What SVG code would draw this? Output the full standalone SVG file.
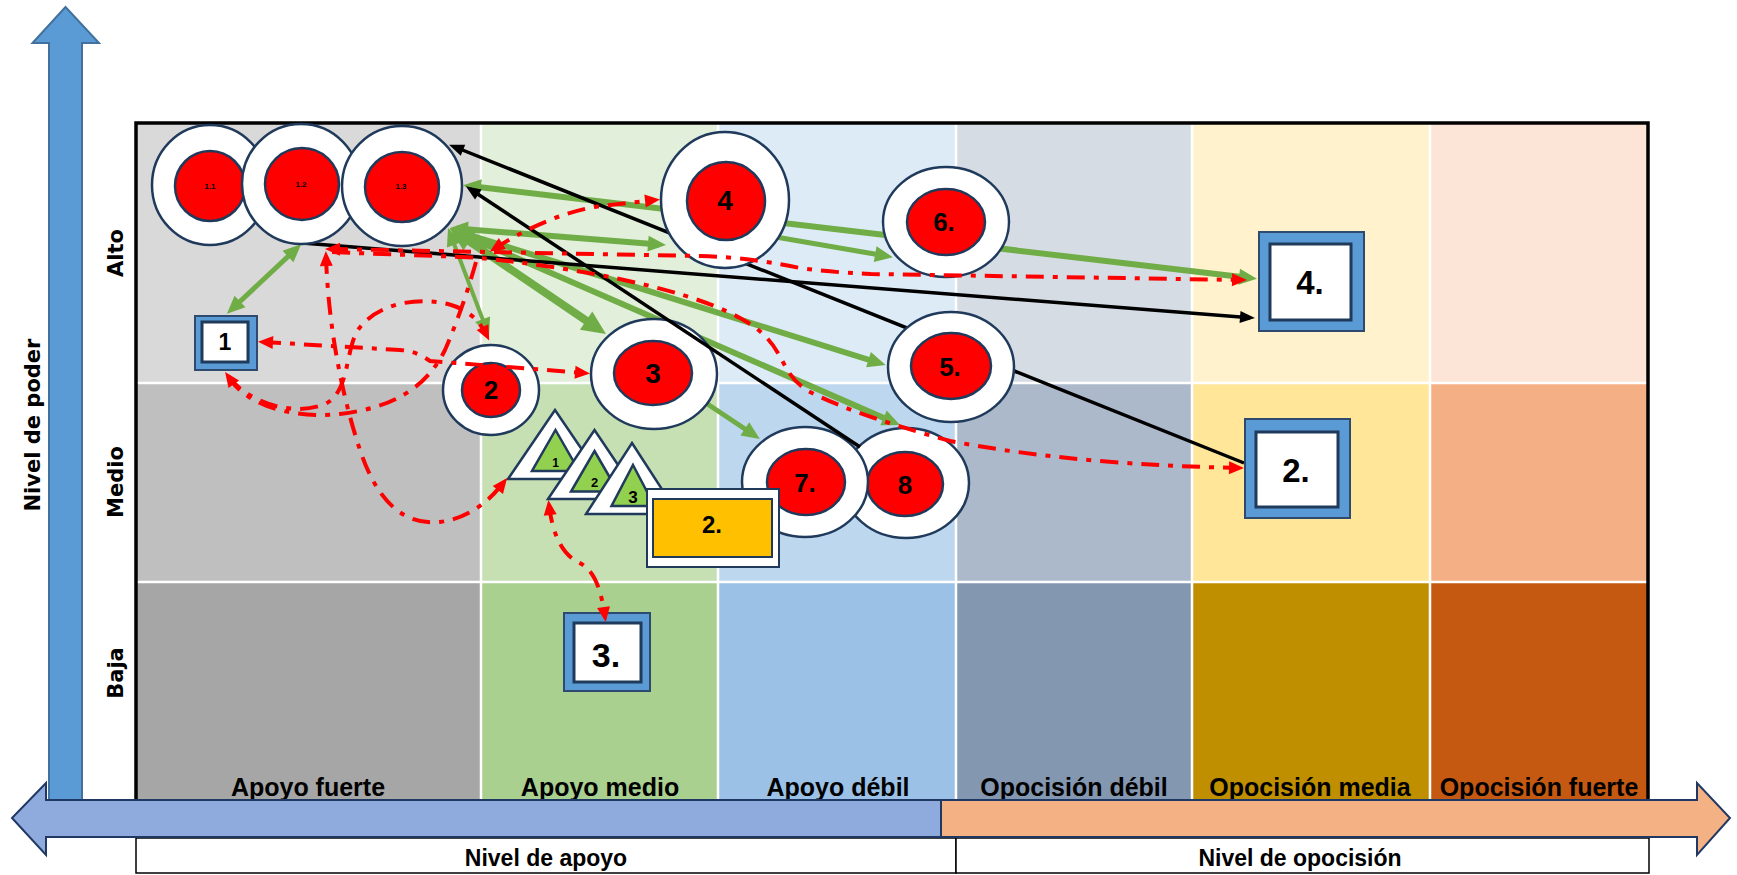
<svg xmlns="http://www.w3.org/2000/svg" width="1737" height="875" viewBox="0 0 1737 875">
<style>
.lbl{font-family:"Liberation Sans",Arial,sans-serif;font-weight:bold;fill:#000;text-anchor:middle}
.rot{font-family:"DejaVu Sans",Verdana,sans-serif;font-weight:bold;font-size:21px;fill:#000;text-anchor:middle}
.outer{fill:#fff;stroke:#203A5C;stroke-width:2.5}
.inner{fill:#FF0000;stroke:#203A5C;stroke-width:2.5}
.sqo{fill:#5B9BD5;stroke:#2E4A6E;stroke-width:2}
.sqi{fill:#fff;stroke:#1F3A5A;stroke-width:3}
.tro{fill:#fff;stroke:#203A5C;stroke-width:2.5;stroke-linejoin:miter}
.tri{fill:#92D050;stroke:#203A5C;stroke-width:2.5}
.g{fill:none;stroke:#70AD47}
.b{fill:none;stroke:#000;stroke-width:3.5}
.r{fill:none;stroke:#FF0000;stroke-width:4;stroke-dasharray:18 9 5 9}
.grid{stroke:#fff;stroke-width:2.5}
</style>
<defs>
<marker id="ag" markerUnits="userSpaceOnUse" markerWidth="18" markerHeight="16" refX="11" refY="8" orient="auto-start-reverse" overflow="visible"><path d="M0,0 L18,8 L0,16 z" fill="#70AD47"/></marker>
<marker id="agb" markerUnits="userSpaceOnUse" markerWidth="24" markerHeight="22" refX="14" refY="11" orient="auto-start-reverse" overflow="visible"><path d="M0,0 L24,11 L0,22 z" fill="#70AD47"/></marker>
<marker id="ab" markerUnits="userSpaceOnUse" markerWidth="15" markerHeight="12" refX="10" refY="6" orient="auto-start-reverse" overflow="visible"><path d="M0,0 L15,6 L0,12 z" fill="#000"/></marker>
<marker id="ar" markerUnits="userSpaceOnUse" markerWidth="15" markerHeight="13" refX="10" refY="6.5" orient="auto-start-reverse" overflow="visible"><path d="M0,0 L15,6.5 L0,13 z" fill="#FF0000"/></marker>
</defs>
<rect width="1737" height="875" fill="#fff"/>

<g id="grid">
<rect x="136" y="123" width="345" height="260" fill="#D9D9D9"/>
<rect x="136" y="383" width="345" height="199" fill="#BFBFBF"/>
<rect x="136" y="582" width="345" height="218" fill="#A6A6A6"/>
<rect x="481" y="123" width="237" height="260" fill="#E2EFDA"/>
<rect x="481" y="383" width="237" height="199" fill="#C6E0B4"/>
<rect x="481" y="582" width="237" height="218" fill="#A9D08E"/>
<rect x="718" y="123" width="238" height="260" fill="#DDEBF7"/>
<rect x="718" y="383" width="238" height="199" fill="#BDD7EE"/>
<rect x="718" y="582" width="238" height="218" fill="#9BC2E6"/>
<rect x="956" y="123" width="236" height="260" fill="#D6DCE4"/>
<rect x="956" y="383" width="236" height="199" fill="#ACB9CA"/>
<rect x="956" y="582" width="236" height="218" fill="#8497B0"/>
<rect x="1192" y="123" width="238" height="260" fill="#FFF2CC"/>
<rect x="1192" y="383" width="238" height="199" fill="#FFE699"/>
<rect x="1192" y="582" width="238" height="218" fill="#BF8F00"/>
<rect x="1430" y="123" width="218" height="260" fill="#FCE4D6"/>
<rect x="1430" y="383" width="218" height="199" fill="#F4B084"/>
<rect x="1430" y="582" width="218" height="218" fill="#C65911"/>
<line class="grid" x1="481" y1="123" x2="481" y2="800"/>
<line class="grid" x1="718" y1="123" x2="718" y2="800"/>
<line class="grid" x1="956" y1="123" x2="956" y2="800"/>
<line class="grid" x1="1192" y1="123" x2="1192" y2="800"/>
<line class="grid" x1="1430" y1="123" x2="1430" y2="800"/>
<line class="grid" x1="136" y1="383" x2="1648" y2="383"/>
<line class="grid" x1="136" y1="582" x2="1648" y2="582"/>
<path d="M136,800 V123 H1648 V800" fill="none" stroke="#000" stroke-width="3.5"/>
<text class="lbl" x="308" y="796" font-size="25">Apoyo fuerte</text>
<text class="lbl" x="600" y="796" font-size="25">Apoyo medio</text>
<text class="lbl" x="838" y="796" font-size="25">Apoyo débil</text>
<text class="lbl" x="1074" y="796" font-size="25">Opocisión débil</text>
<text class="lbl" x="1310" y="796" font-size="25">Opocisión media</text>
<text class="lbl" x="1539" y="796" font-size="25">Opocisión fuerte</text>
<text class="rot" transform="translate(123,253) rotate(-90)">Alto</text>
<text class="rot" transform="translate(123,482) rotate(-90)">Medio</text>
<text class="rot" transform="translate(123,673) rotate(-90)">Baja</text>
</g>

<g id="axes">
<path d="M49,800 V43 H32.5 L65.5,7 L99,43 H82 V800 Z" fill="#5B9BD5" stroke="#41719C" stroke-width="2"/>
<text class="rot" transform="translate(40,425) rotate(-90)">Nivel de poder</text>
<rect x="136" y="838" width="820" height="35" fill="#fff" stroke="#000" stroke-width="1.5"/>
<rect x="956" y="838" width="693" height="35" fill="#fff" stroke="#000" stroke-width="1.5"/>
<text class="lbl" x="546" y="866" font-size="23">Nivel de apoyo</text>
<text class="lbl" x="1300" y="866" font-size="23">Nivel de opocisión</text>
<path d="M941,800 H1697 V783 L1730,818 L1697,855 V837 H941 Z" fill="#F4B183" stroke="#203864" stroke-width="2"/>
<path d="M941,800 H46 V783 L12,818 L46,855 V837 H941 Z" fill="#8FAADC" stroke="#203864" stroke-width="2"/>
</g>

<g id="connectors-back">
<path class="g" stroke-width="5" d="M296,249 L232,309" marker-start="url(#ag)" marker-end="url(#ag)"/>
<path class="g" stroke-width="6" d="M470,186 L1250,278" marker-start="url(#ag)" marker-end="url(#ag)"/>
<path class="g" stroke-width="4" d="M450.5,234.5 L486.5,329.5" marker-start="url(#ag)" marker-end="url(#ag)"/>
<path class="g" stroke-width="8" d="M458,233.6 L597.7,328.4" marker-start="url(#agb)" marker-end="url(#agb)"/>
<path class="g" stroke-width="6" d="M456.7,231 L879,363" marker-start="url(#ag)" marker-end="url(#ag)"/>
<path class="g" stroke-width="6" d="M456.4,231.8 L893.6,422.2" marker-start="url(#ag)" marker-end="url(#ag)"/>
<path class="g" stroke-width="6" d="M457,228.5 L659,244.5" marker-start="url(#ag)" marker-end="url(#ag)"/>
<path class="g" stroke-width="5" d="M770,236 L886,256" marker-end="url(#ag)"/>
<path class="g" stroke-width="5" d="M700,399 L754,435" marker-end="url(#ag)"/>
<path class="b" d="M1244,463 L453.7,146.5" marker-end="url(#ab)"/>
<path class="b" d="M302,243 L1250,317.7" marker-end="url(#ab)"/>
</g>

<g id="nodes">
<g id="n1-1"><ellipse class="outer" cx="210" cy="185" rx="58" ry="60"/><ellipse class="inner" cx="210" cy="186" rx="35" ry="35"/><text class="lbl" x="210" y="189" font-size="8">1.1</text></g>
<g id="n1-2"><ellipse class="outer" cx="301" cy="184" rx="59" ry="60"/><ellipse class="inner" cx="302" cy="184" rx="37" ry="36"/><text class="lbl" x="301" y="187" font-size="8">1.2</text></g>
<g id="n1-3"><ellipse class="outer" cx="402" cy="186" rx="60" ry="60"/><ellipse class="inner" cx="402" cy="187" rx="37" ry="35"/><text class="lbl" x="401" y="189" font-size="8">1.3</text></g>
<g id="n2"><ellipse class="outer" cx="491" cy="390" rx="48" ry="45"/><ellipse class="inner" cx="491" cy="390" rx="29" ry="27"/><text class="lbl" x="491" y="399" font-size="26">2</text></g>
<g id="n3"><ellipse class="outer" cx="654" cy="374" rx="63" ry="55"/><ellipse class="inner" cx="653" cy="373" rx="39" ry="32"/><text class="lbl" x="653" y="383" font-size="28">3</text></g>
<g id="n4"><ellipse class="outer" cx="725" cy="200" rx="64" ry="68"/><ellipse class="inner" cx="726" cy="201" rx="39" ry="39"/><text class="lbl" x="725" y="210" font-size="28">4</text></g>
<g id="n5"><ellipse class="outer" cx="951" cy="367" rx="63" ry="55"/><ellipse class="inner" cx="951" cy="366" rx="40" ry="33"/><text class="lbl" x="950" y="376" font-size="26">5.</text></g>
<g id="n6"><ellipse class="outer" cx="946" cy="222" rx="63" ry="55"/><ellipse class="inner" cx="946" cy="222" rx="39" ry="33"/><text class="lbl" x="944" y="231" font-size="26">6.</text></g>
<g id="n8"><ellipse class="outer" cx="906" cy="483" rx="63" ry="55"/><ellipse class="inner" cx="905" cy="484" rx="38" ry="32"/><text class="lbl" x="905" y="494" font-size="26">8</text></g>
<g id="n7"><ellipse class="outer" cx="805" cy="482" rx="63" ry="55"/><ellipse class="inner" cx="806" cy="482" rx="39" ry="33"/><text class="lbl" x="805" y="492" font-size="26">7.</text></g>
<g id="t1"><path class="tro" d="M555,410 L602,479 L508,479 Z"/><path class="tri" d="M555.5,430 L579,471 L532,471 Z"/><text class="lbl" x="555.5" y="467" font-size="12">1</text></g>
<g id="t2"><path class="tro" d="M594.5,430 L641,499 L548,499 Z"/><path class="tri" d="M594.5,451 L618,491.5 L571,491.5 Z"/><text class="lbl" x="594.5" y="487" font-size="13">2</text></g>
<g id="t3"><path class="tro" d="M632,443 L678,514 L586,514 Z"/><path class="tri" d="M633,465 L654.5,506 L611.5,506 Z"/><text class="lbl" x="633" y="503" font-size="17">3</text></g>
<g id="box2y"><rect x="647" y="489" width="132" height="78" fill="#fff" stroke="#203A5C" stroke-width="2"/><rect x="653" y="499" width="119" height="58" fill="#FFC000" stroke="#203A5C" stroke-width="2"/><text class="lbl" x="712" y="533" font-size="24">2.</text></g>
<g id="s1"><rect class="sqo" x="195" y="316" width="62" height="54"/><rect class="sqi" x="202" y="322" width="46" height="40"/><text class="lbl" x="225" y="350" font-size="23">1</text></g>
<g id="s3"><rect class="sqo" x="564" y="613" width="86" height="78"/><rect class="sqi" x="574" y="623" width="67" height="59"/><text class="lbl" x="606" y="667" font-size="34">3.</text></g>
<g id="s4"><rect class="sqo" x="1259" y="232" width="105" height="99"/><rect class="sqi" x="1270" y="244" width="81" height="76"/><text class="lbl" x="1310" y="294" font-size="33">4.</text></g>
<g id="s2"><rect class="sqo" x="1245" y="419" width="105" height="99"/><rect class="sqi" x="1256" y="432" width="82" height="75"/><text class="lbl" x="1296" y="482" font-size="33">2.</text></g>
</g>

<g id="connectors">
<path class="b" d="M860,447 L470,189" marker-end="url(#ab)"/>
<path class="r" d="M330,249 L700,256 C740,257 770,262 800,268 C830,272 850,273 871,274 L1242,280" marker-start="url(#ar)" marker-end="url(#ar)"/>
<path class="r" d="M332,252 C400,255 450,256 480,258 C560,266 680,285 740,318 C790,345 775,372 810,392 C850,412 900,427 950,441 C1050,460 1150,466 1239,468" marker-end="url(#ar)"/>
<path class="r" d="M494,249 C520,232 560,212 600,206 L655,200" marker-start="url(#ar)" marker-end="url(#ar)"/>
<path class="r" d="M326,256 C328,320 340,390 360,450 C380,510 410,525 440,522 C470,518 490,500 504,482" marker-start="url(#ar)" marker-end="url(#ar)"/>
<path class="r" d="M263,342 L400,350 C415,351 422,356 430,361 L585,373" marker-start="url(#ar)" marker-end="url(#ar)"/>
<path class="r" d="M228,376 C245,400 290,418 325,404 C350,392 345,350 358,330 C375,305 415,296 448,304 C470,310 480,322 487,336" marker-start="url(#ar)" marker-end="url(#ar)"/>
<path class="r" d="M476,262 C468,290 458,320 445,350 C425,390 390,408 340,414 C300,418 255,410 232,382"/>
<path class="r" d="M549,505 C552,530 560,553 578,562 C595,570 601,590 605,617" marker-start="url(#ar)" marker-end="url(#ar)"/>
</g>
</svg>
